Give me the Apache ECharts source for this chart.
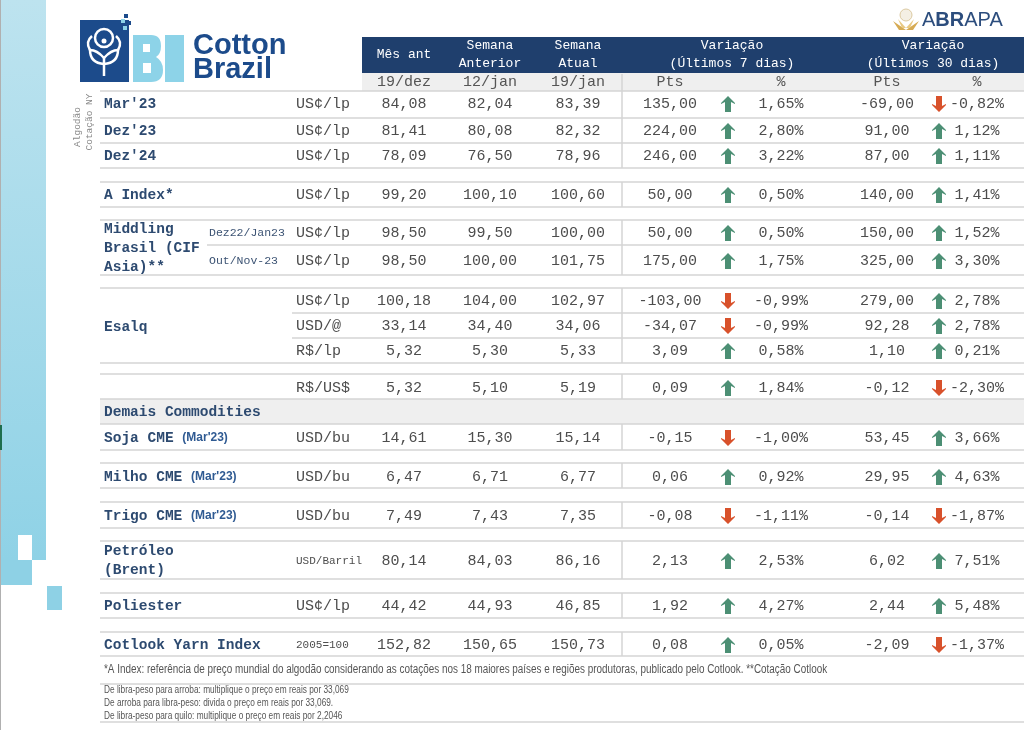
<!DOCTYPE html>
<html><head><meta charset="utf-8">
<script src="https://cdn.jsdelivr.net/npm/echarts@6/dist/echarts.min.js"></script>
<style>html,body{margin:0;padding:0;background:#fff}#c{width:1024px;height:730px}</style>
</head><body><div id="c"></div>
<script>
// ---------------- DATA ----------------
const colHeads = ['Mês ant', 'Semana\nAnterior', 'Semana\nAtual', 'Variação\n(Últimos 7 dias)', 'Variação\n(Últimos 30 dias)'];
const subHeads = ['19/dez', '12/jan', '19/jan', 'Pts', '%', 'Pts', '%'];
const groupLabels = ["Mar'23", "Dez'23", "Dez'24", "A Index*", "Middling\nBrasil (CIF\nAsia)**", "Esalq", "Demais Commodities", "Soja CME", "Milho CME", "Trigo CME", "Petróleo\n(Brent)", "Poliester", "Cotlook Yarn Index"];
const groupQualifiers = ["", "", "", "", "", "", "", "(Mar'23)", "(Mar'23)", "(Mar'23)", "", "", ""];
const subLabels = ["", "", "", "", "Dez22/Jan23", "Out/Nov-23", "", "", "", "", "", "", "", "", "", ""];
const units = ["US¢/lp", "US¢/lp", "US¢/lp", "US¢/lp", "US¢/lp", "US¢/lp", "US¢/lp", "USD/@", "R$/lp", "R$/US$", "USD/bu", "USD/bu", "USD/bu", "USD/Barril", "US¢/lp", "2005=100"];
const mesAnt   = [84.08, 81.41, 78.09, 99.20, 98.50, 98.50, 100.18, 33.14, 5.32, 5.32, 14.61, 6.47, 7.49, 80.14, 44.42, 152.82];
const semAnt   = [82.04, 80.08, 76.50, 100.10, 99.50, 100.00, 104.00, 34.40, 5.30, 5.10, 15.30, 6.71, 7.43, 84.03, 44.93, 150.65];
const semAtual = [83.39, 82.32, 78.96, 100.60, 100.00, 101.75, 102.97, 34.06, 5.33, 5.19, 15.14, 6.77, 7.35, 86.16, 46.85, 150.73];
const pts7  = [135.00, 224.00, 246.00, 50.00, 50.00, 175.00, -103.00, -34.07, 3.09, 0.09, -0.15, 0.06, -0.08, 2.13, 1.92, 0.08];
const pct7  = [1.65, 2.80, 3.22, 0.50, 0.50, 1.75, -0.99, -0.99, 0.58, 1.84, -1.00, 0.92, -1.11, 2.53, 4.27, 0.05];
const pts30 = [-69.00, 91.00, 87.00, 140.00, 150.00, 325.00, 279.00, 92.28, 1.10, -0.12, 53.45, 29.95, -0.14, 6.02, 2.44, -2.09];
const pct30 = [-0.82, 1.12, 1.11, 1.41, 1.52, 3.30, 2.78, 2.78, 0.21, -2.30, 3.66, 4.63, -1.87, 7.51, 5.48, -1.37];
const sideTitle = ['Algodão', 'Cotação NY'];
const footnoteMain = "*A Index: referência de preço mundial do algodão considerando as cotações nos 18 maiores países e regiões produtoras, publicado pelo Cotlook. **Cotação Cotlook";
const footnotes = ["De libra-peso para arroba: multiplique o preço em reais por 33,069", "De arroba para libra-peso: divida o preço em reais por 33,069.", "De libra-peso para quilo: multiplique o preço em reais por 2,2046"];

// ---------------- LAYOUT ----------------
const rowY = [104, 131, 156, 195, 233, 261, 301, 326, 351, 388, 438, 477, 516, 561, 606, 645];
const groupY = [104, 131, 156, 195, 248, 327, 412, 438, 477, 516, 561, 606, 645];
const headX = [404, 490, 578, 732, 933];
const subHeadX = [404, 490, 578, 670, 781, 887, 977];
const hLineY = [91, 118, 143, 168, 182, 207, 220, 245, 275, 288, 313, 338, 363, 374, 399, 424, 450, 463, 488, 502, 528, 541, 579, 593, 618, 632, 656, 684, 722];
const hLineX0 = [100, 100, 100, 100, 100, 100, 100, 207, 100, 100, 292, 292, 100, 100, 100, 100, 100, 100, 100, 100, 100, 100, 100, 100, 100, 100, 100, 100, 100];
const vSegs = [[74, 168], [182, 207], [220, 275], [288, 363], [374, 399], [424, 450], [463, 488], [502, 528], [541, 579], [593, 618], [632, 656]];

const MONO = '"Liberation Mono", "DejaVu Sans Mono", monospace';
const SANS = '"Liberation Sans", Arial, sans-serif';
const NARROW = '"Liberation Sans Narrow", "Liberation Sans", sans-serif';
const NAVY = '#1f3f6d';
const LABEL = '#2d4a70';
const NUM = '#4d4d4d';
const GREEN = '#4c8f74';
const RED = '#d8512b';
const LOGO = '#1c4b8b';
const LIGHT = '#8dd3e8';

function fmt(v) { return v.toFixed(2).replace('.', ','); }

function arrowShape(p, up) {
  const s = up ? 1 : -1;
  const pts = [[0, -8], [7, -1], [7, 0], [3, -2], [3, 8], [-3, 8], [-3, -2], [-7, 0], [-7, -1]];
  return {
    type: 'polygon',
    shape: { points: pts.map(q => [p[0] + q[0], p[1] + s * q[1]]) },
    style: { fill: up ? GREEN : RED }
  };
}

const chart = echarts.init(document.getElementById('c'), null, { renderer: 'canvas', width: 1024, height: 730 });

const option = {
  animation: false,
  backgroundColor: '#ffffff',
  grid: { left: 0, right: 0, top: 0, bottom: 0, containLabel: false },
  xAxis: { type: 'value', min: 0, max: 1024, show: false },
  yAxis: { type: 'value', min: 0, max: 730, inverse: true, show: false },
  series: [
    // frame: backgrounds, header, grid lines, footnotes, logo
    {
      type: 'custom', silent: true, clip: false, z: 1,
      data: [[0, 0]],
      renderItem: function (params, api) {
        const C = (x, y) => api.coord([x, y]);
        const kids = [];
        const rect = (x0, y0, x1, y1, fill) => {
          const a = C(x0, y0), b = C(x1, y1);
          kids.push({ type: 'rect', shape: { x: a[0], y: a[1], width: b[0] - a[0], height: b[1] - a[1] }, style: { fill } });
        };
        rect(362, 37, 1024, 73, NAVY);
        rect(362, 73, 1024, 91, '#efefef');
        rect(100, 399, 1024, 424, '#efefef');
        hLineY.forEach((y, k) => {
          const a = C(hLineX0[k], y), b = C(1024, y);
          kids.push({ type: 'line', shape: { x1: a[0], y1: a[1], x2: b[0], y2: b[1] }, style: { stroke: '#d5d5d5', lineWidth: 1.5 } });
        });
        vSegs.forEach(s => {
          const a = C(622, s[0]), b = C(622, s[1]);
          kids.push({ type: 'line', shape: { x1: a[0], y1: a[1], x2: b[0], y2: b[1] }, style: { stroke: '#d5d5d5', lineWidth: 1.5 } });
        });
        colHeads.forEach((h, k) => {
          const p = C(headX[k], 55);
          kids.push({ type: 'text', x: p[0], y: p[1], style: { text: h, fontFamily: MONO, fontSize: 13, lineHeight: 18, fill: '#ffffff', align: 'center', verticalAlign: 'middle' } });
        });
        subHeads.forEach((h, k) => {
          const p = C(subHeadX[k], 82);
          kids.push({ type: 'text', x: p[0], y: p[1], style: { text: h, fontFamily: MONO, fontSize: 15, fill: '#555', align: 'center', verticalAlign: 'middle' } });
        });
        const f = C(104, 670);
        kids.push({ type: 'text', x: f[0], y: f[1], scaleX: 0.825, style: { text: footnoteMain, fontFamily: NARROW, fontSize: 12, fill: '#555', align: 'left', verticalAlign: 'middle' } });
        footnotes.forEach((t, k) => {
          const p = C(104, 690 + 13 * k);
          kids.push({ type: 'text', x: p[0], y: p[1], scaleX: 0.79, style: { text: t, fontFamily: NARROW, fontSize: 10.5, fill: '#555', align: 'left', verticalAlign: 'middle' } });
        });
        // side title (rotated)
        const s1 = C(77, 127), s2 = C(89, 122);
        kids.push({ type: 'text', x: s1[0], y: s1[1], rotation: Math.PI / 2, style: { text: sideTitle[0], fontFamily: MONO, fontSize: 9.5, fill: '#888', align: 'center', verticalAlign: 'middle' } });
        kids.push({ type: 'text', x: s2[0], y: s2[1], rotation: Math.PI / 2, style: { text: sideTitle[1], fontFamily: MONO, fontSize: 9.5, fill: '#888', align: 'center', verticalAlign: 'middle' } });
        // logo tree and B shape (decorative)
        kids.push({ type: 'path', shape: { pathData: 'M92,36 Q85,42 90,50 M116,36 Q123,42 118,50' }, style: { fill: null, stroke: '#fff', lineWidth: 2.5 } });
        kids.push({ type: 'path', shape: { pathData: 'M90,50 Q90,63 104,64 Q118,63 118,50 Q111,50 104,58 Q97,50 90,50 Z' }, style: { fill: null, stroke: '#fff', lineWidth: 2.5 } });
        kids.push({ type: 'path', shape: { pathData: 'M133,35 L151,35 Q161,35 161,46 Q161,54 156,57 Q163,61 163,70 Q163,82 151,82 L133,82 Z' }, style: { fill: LIGHT } });
        kids.push({ type: 'rect', shape: { x: 143, y: 44, width: 7, height: 8 }, style: { fill: '#ffffff' } });
        kids.push({ type: 'rect', shape: { x: 143, y: 63, width: 8, height: 10 }, style: { fill: '#ffffff' } });
        return { type: 'group', children: kids };
      }
    },
    // group labels
    {
      type: 'custom', silent: true, clip: false, z: 3,
      data: groupY.map(y => [104, y]),
      renderItem: function (params, api) {
        const i = params.dataIndex;
        const p = api.coord([api.value(0), api.value(1)]);
        const q = groupQualifiers[i];
        const text = q ? '{m|' + groupLabels[i] + ' }{q|' + q + '}' : '{m|' + groupLabels[i].split('\n').join('}\n{m|') + '}';
        return {
          type: 'text', x: p[0], y: p[1],
          style: {
            text: text, align: 'left', verticalAlign: 'middle',
            rich: {
              m: { fontFamily: MONO, fontSize: 14.5, fontWeight: 'bold', fill: LABEL, lineHeight: 19 },
              q: { fontFamily: SANS, fontSize: 12, fontWeight: 'bold', fill: '#2f5a92', lineHeight: 19 }
            }
          }
        };
      }
    },
    // data rows
    {
      type: 'custom', silent: true, clip: false, z: 3,
      data: rowY.map(y => [0, y]),
      renderItem: function (params, api) {
        const i = params.dataIndex;
        const y = api.value(1);
        const P = x => api.coord([x, y]);
        const kids = [];
        const t = (x, text, opt) => {
          const p = P(x);
          kids.push({ type: 'text', x: p[0], y: p[1], style: Object.assign({ text: text, fontFamily: MONO, fontSize: 15, fill: NUM, align: 'center', verticalAlign: 'middle' }, opt || {}) });
        };
        if (subLabels[i]) t(209, subLabels[i], { fontSize: 11.5, fill: '#3d5474', align: 'left' });
        const u = units[i];
        t(296, u, { align: 'left', fontSize: u.length > 7 ? 11 : 15 });
        t(404, fmt(mesAnt[i]));
        t(490, fmt(semAnt[i]));
        t(578, fmt(semAtual[i]));
        t(670, fmt(pts7[i]));
        kids.push(arrowShape(P(728), pct7[i] >= 0));
        t(781, fmt(pct7[i]) + '%');
        t(887, fmt(pts30[i]));
        kids.push(arrowShape(P(939), pct30[i] >= 0));
        t(977, fmt(pct30[i]) + '%');
        return { type: 'group', children: kids };
      }
    }
  ],
  graphic: [
    // left decorative band
    { type: 'rect', shape: { x: 0, y: 0, width: 46, height: 560 }, style: { fill: { type: 'linear', x: 0, y: 0, x2: 0, y2: 1, colorStops: [{ offset: 0, color: '#bde3ef' }, { offset: 1, color: '#8fd2e6' }] } }, z: 0 },
    { type: 'rect', shape: { x: 18, y: 535, width: 14, height: 25 }, style: { fill: '#ffffff' }, z: 1 },
    { type: 'rect', shape: { x: 0, y: 560, width: 32, height: 25 }, style: { fill: '#8ed1e5' }, z: 1 },
    { type: 'rect', shape: { x: 47, y: 586, width: 15, height: 24 }, style: { fill: '#8ed1e5' }, z: 1 },
    { type: 'rect', shape: { x: 0, y: 0, width: 1, height: 730 }, style: { fill: '#b0b0b0' }, z: 2 },
    { type: 'rect', shape: { x: 0, y: 425, width: 2, height: 25 }, style: { fill: '#1e6e4e' }, z: 2 },
    // BI Cotton Brazil logo
    { type: 'rect', shape: { x: 80, y: 20, width: 49, height: 62 }, style: { fill: LOGO }, z: 0 },
    { type: 'rect', shape: { x: 124, y: 14, width: 4, height: 4 }, style: { fill: LOGO }, z: 2 },
    { type: 'rect', shape: { x: 121, y: 19, width: 4, height: 4 }, style: { fill: LIGHT }, z: 2 },
    { type: 'rect', shape: { x: 127, y: 21, width: 4, height: 4 }, style: { fill: LOGO }, z: 2 },
    { type: 'rect', shape: { x: 123, y: 26, width: 4, height: 4 }, style: { fill: LIGHT }, z: 3 },
    { type: 'circle', shape: { cx: 104, cy: 38, r: 9 }, style: { fill: 'none', stroke: '#fff', lineWidth: 2.5 }, z: 3 },
    { type: 'circle', shape: { cx: 104, cy: 41, r: 2.5 }, style: { fill: '#fff' }, z: 3 },
    { type: 'line', shape: { x1: 104, y1: 58, x2: 104, y2: 76 }, style: { stroke: '#fff', lineWidth: 2.5 }, z: 3 },
    { type: 'rect', shape: { x: 165, y: 35, width: 19, height: 47 }, style: { fill: LIGHT }, z: 2 },
    { type: 'text', x: 193, y: 46, style: { text: 'Cotton', fontFamily: SANS, fontSize: 29, fontWeight: 'bold', fill: LOGO, align: 'left', verticalAlign: 'middle' }, z: 3 },
    { type: 'text', x: 193, y: 70, style: { text: 'Brazil', fontFamily: SANS, fontSize: 29, fontWeight: 'bold', fill: LOGO, align: 'left', verticalAlign: 'middle' }, z: 3 },
    // ABRAPA logo
    { type: 'circle', shape: { cx: 906, cy: 15, r: 6 }, style: { fill: '#f4efe4', stroke: '#dccaa2', lineWidth: 1 }, z: 3 },
    { type: 'polygon', shape: { points: [[893, 21], [906, 30], [899, 30]] }, style: { fill: '#d6aa52' }, z: 3 },
    { type: 'polygon', shape: { points: [[919, 21], [906, 30], [913, 30]] }, style: { fill: '#d6aa52' }, z: 3 },
    { type: 'polygon', shape: { points: [[898, 19], [906, 28], [902, 28]] }, style: { fill: '#e8c983' }, z: 3 },
    { type: 'polygon', shape: { points: [[914, 19], [906, 28], [910, 28]] }, style: { fill: '#e8c983' }, z: 3 },
    { type: 'text', x: 922, y: 20, style: { text: '{a|A}{b|BR}{a|APA}', align: 'left', verticalAlign: 'middle', rich: { a: { fontFamily: SANS, fontSize: 20, fill: '#2c4d7d' }, b: { fontFamily: SANS, fontSize: 20, fontWeight: 'bold', fill: '#2c4d7d' } } }, z: 3 }
  ]
};
chart.setOption(option);
</script>
</body></html>
